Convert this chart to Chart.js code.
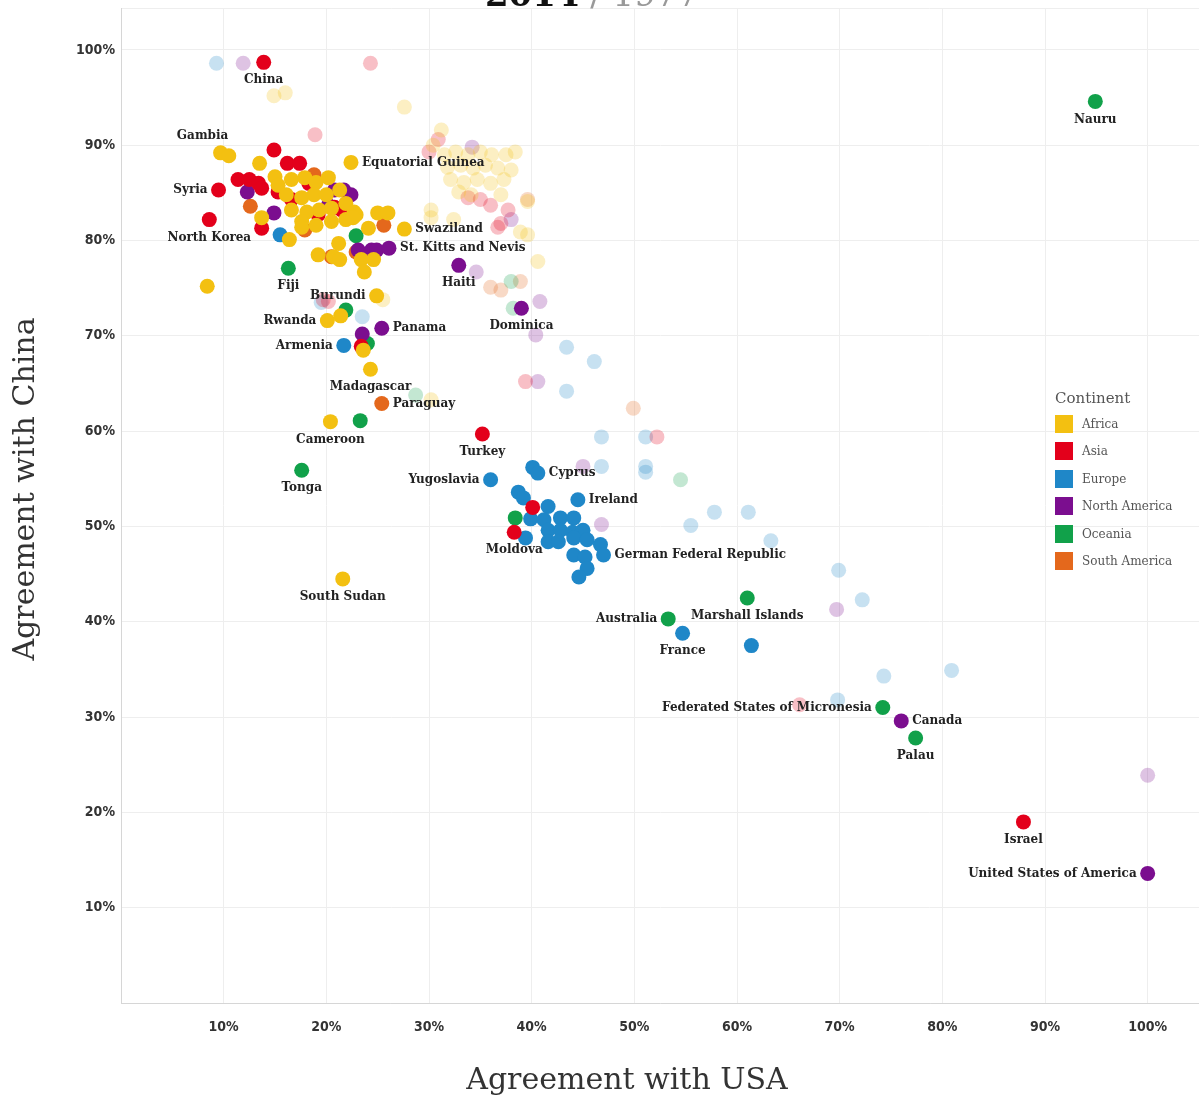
<!DOCTYPE html>
<html>
<head>
<meta charset="utf-8">
<script src="https://cdn.jsdelivr.net/npm/chart.js@4"></script>
<style>
  html, body { margin: 0; background: #fff; overflow: hidden; }
  #wrap { position: relative; width: 1199px; height: 1099px; }
  #chart { display: block; }
  #legend { position: absolute; left: 1055px; top: 389px; font-family: "DejaVu Serif", serif; color: #555; }
  #legend .ttl { font-size: 15px; margin-bottom: 3px; }
  #legend .row { display: flex; align-items: center; height: 27.5px; font-size: 12px; }
  #legend .sw { width: 18px; height: 18px; margin-right: 9px; }
</style>
</head>
<body>
<div id="wrap">
  <canvas id="chart"></canvas>
  <div id="legend"></div>
</div>
<script>
// [agreement with USA %, agreement with China %, label]
const africa2014 = [
    [9.7, 89.2, 'Gambia'], [10.5, 88.9], [13.5, 88.1], [22.4, 88.2, 'Equatorial Guinea'], [15.0, 86.7],
    [15.3, 85.8], [16.6, 86.4], [17.9, 86.6], [19.0, 86.1], [20.2, 86.6],
    [16.1, 84.8], [17.6, 84.5], [18.8, 84.8], [20.0, 84.8], [21.3, 85.3],
    [16.6, 83.2], [18.1, 83.0], [19.3, 83.2], [20.5, 83.4], [21.9, 83.9],
    [17.6, 82.0], [19.0, 81.6], [20.5, 82.0], [21.9, 82.2], [22.9, 82.7],
    [22.7, 83.0], [22.6, 82.4], [25.0, 82.9], [26.0, 82.9], [24.1, 81.3],
    [27.6, 81.2, 'Swaziland'], [13.7, 82.4], [16.4, 80.1], [17.6, 81.4], [19.2, 78.5],
    [21.2, 79.7], [20.7, 78.3], [21.3, 78.0], [23.4, 78.0], [24.6, 78.0],
    [23.7, 76.7], [8.4, 75.2], [24.9, 74.2, 'Burundi'], [20.1, 71.6, 'Rwanda'], [21.4, 72.1],
    [23.6, 68.5], [24.3, 66.5, 'Madagascar'], [20.4, 61.0, 'Cameroon'], [21.6, 44.5, 'South Sudan']
];
const asia2014 = [
    [13.9, 98.7, 'China'], [14.9, 89.5], [16.2, 88.1], [17.4, 88.1], [11.4, 86.4],
    [12.5, 86.4], [13.4, 86.0], [13.7, 85.5], [9.5, 85.3, 'Syria'], [8.6, 82.2, 'North Korea'],
    [18.3, 86.0], [15.3, 85.1], [19.2, 82.7], [20.8, 83.5], [21.5, 83.2],
    [22.1, 82.5], [13.7, 81.3], [16.6, 84.3], [23.4, 68.9], [35.2, 59.7, 'Turkey'],
    [40.1, 52.0], [38.3, 49.4, 'Moldova'], [87.9, 19.0, 'Israel']
];
const europe2014 = [
    [15.5, 80.6], [21.7, 69.0, 'Armenia'], [36.0, 54.9, 'Yugoslavia'], [40.1, 56.2], [40.6, 55.6, 'Cyprus'],
    [44.5, 52.8, 'Ireland'], [38.7, 53.6], [39.2, 53.0], [41.6, 52.1], [39.9, 50.8],
    [41.2, 50.7], [42.8, 50.9], [44.1, 50.9], [41.6, 49.6], [42.8, 49.6],
    [44.0, 49.4], [45.0, 49.6], [39.4, 48.8], [41.6, 48.4], [42.6, 48.4],
    [44.1, 48.8], [45.4, 48.6], [46.7, 48.1], [47.0, 47.0, 'German Federal Republic'], [44.1, 47.0],
    [45.2, 46.8], [45.4, 45.6], [44.6, 44.7], [54.7, 38.8, 'France'], [61.4, 37.5]
];
const northAmerica2014 = [
    [12.3, 85.1], [20.8, 85.3], [21.7, 85.3], [22.4, 84.8], [20.2, 83.7],
    [14.9, 82.9], [23.1, 79.0], [24.4, 79.0], [24.9, 79.0], [26.1, 79.2, 'St. Kitts and Nevis'],
    [32.9, 77.4, 'Haiti'], [25.4, 70.8, 'Panama'], [39.0, 72.9, 'Dominica'], [23.5, 70.2],
    [76.0, 29.6, 'Canada'], [100, 13.6, 'United States of America']
];
const oceania2014 = [
    [94.9, 94.6, 'Nauru'], [22.9, 80.5], [16.3, 77.1, 'Fiji'], [21.9, 72.7], [24.0, 69.2],
    [23.3, 61.1], [17.6, 55.9, 'Tonga'], [38.4, 50.9], [53.3, 40.3, 'Australia'], [61.0, 42.5, 'Marshall Islands'],
    [74.2, 31.0, 'Federated States of Micronesia'], [77.4, 27.8, 'Palau']
];
const southAmerica2014 = [
    [18.8, 86.9], [12.6, 83.6], [25.6, 81.6], [20.5, 78.3], [22.9, 78.8],
    [17.9, 81.1], [25.4, 62.9, 'Paraguay']
];

const africa1977 = [
    [14.9, 95.2], [16.0, 95.5], [27.6, 94.0], [31.2, 91.6], [30.4, 90.0],
    [31.5, 89.0], [32.6, 89.3], [33.8, 89.0], [35.0, 89.3], [36.1, 89.0], [37.5, 89.0], [38.4, 89.3],
    [31.8, 87.7], [33.1, 87.9], [34.3, 87.6], [35.5, 87.9], [36.7, 87.6], [38.0, 87.4],
    [32.1, 86.4], [33.4, 86.1], [34.7, 86.4], [36.0, 86.0], [37.3, 86.4],
    [32.9, 85.1], [34.1, 84.8], [37.0, 84.8], [30.2, 83.2], [32.4, 82.2], [30.2, 82.4],
    [40.6, 77.8], [39.6, 80.6], [38.9, 80.9], [30.2, 63.3], [25.5, 73.8], [39.6, 84.1]
];
const asia1977 = [
    [24.3, 98.6], [18.9, 91.1], [30.0, 89.3], [30.9, 90.6], [33.8, 84.5],
    [35.0, 84.3], [36.0, 83.7], [37.7, 83.2], [37.0, 81.8], [36.7, 81.4],
    [19.7, 73.8], [20.2, 73.6], [52.2, 59.4], [66.1, 31.3], [39.4, 65.2]
];
const europe1977 = [
    [9.3, 98.6], [23.5, 72.0], [19.5, 73.5], [43.4, 68.8], [46.1, 67.3],
    [43.4, 64.2], [46.8, 59.4], [51.1, 59.4], [46.8, 56.3], [51.1, 56.3],
    [51.1, 55.7], [55.5, 50.1], [57.8, 51.5], [61.1, 51.5], [63.3, 48.5],
    [69.9, 45.4], [72.2, 42.3], [74.3, 34.3], [80.9, 34.9], [69.8, 31.8]
];
const northAmerica1977 = [
    [11.9, 98.6], [34.2, 89.8], [34.6, 76.7], [40.8, 73.6], [40.4, 70.1],
    [40.6, 65.2], [45.0, 56.3], [46.8, 50.2], [69.7, 41.3], [100, 23.9], [38.0, 82.2]
];
const oceania1977 = [
    [54.5, 54.9], [28.7, 63.8], [38.2, 72.9], [38.0, 75.7]
];
const southAmerica1977 = [
    [49.9, 62.4], [36.0, 75.1], [38.9, 75.7], [39.6, 84.3], [37.0, 74.8]
];

const continents = ['Africa', 'Asia', 'Europe', 'North America', 'Oceania', 'South America'];
const colors = ['243,192,17', '227,0,27', '31,135,200', '123,14,143', '17,161,74', '228,104,28'];
const series2014 = [africa2014, asia2014, europe2014, northAmerica2014, oceania2014, southAmerica2014];
const series1977 = [africa1977, asia1977, europe1977, northAmerica1977, oceania1977, southAmerica1977];

// where each country name sits next to its dot
const labelSide = {
    'China': 'below', 'Nauru': 'below', 'Gambia': 'above', 'Equatorial Guinea': 'right',
    'Syria': 'left', 'North Korea': 'below', 'Swaziland': 'right', 'St. Kitts and Nevis': 'right',
    'Fiji': 'below', 'Burundi': 'left', 'Haiti': 'below', 'Rwanda': 'left', 'Panama': 'right',
    'Dominica': 'below', 'Armenia': 'left', 'Madagascar': 'below', 'Paraguay': 'right',
    'Cameroon': 'below', 'Turkey': 'below', 'Tonga': 'below', 'Yugoslavia': 'left',
    'Cyprus': 'right', 'Ireland': 'right', 'Moldova': 'below', 'German Federal Republic': 'right',
    'South Sudan': 'below', 'Australia': 'left', 'Marshall Islands': 'below', 'France': 'below',
    'Federated States of Micronesia': 'left', 'Canada': 'right', 'Palau': 'below',
    'Israel': 'below', 'United States of America': 'left'
};

const toPoints = arr => arr.map(p => ({ x: p[0], y: p[1], name: p[2] }));

const datasets = [];
continents.forEach((c, i) => {
    datasets.push({
        label: c + ' 2014',
        data: toPoints(series2014[i]),
        backgroundColor: 'rgb(' + colors[i] + ')',
        borderWidth: 0,
        pointRadius: 7.5,
        order: 1
    });
});
continents.forEach((c, i) => {
    datasets.push({
        label: c + ' 1977',
        data: toPoints(series1977[i]),
        backgroundColor: 'rgba(' + colors[i] + ',0.25)',
        borderWidth: 0,
        pointRadius: 7.5,
        order: 2
    });
});

const serif = '"DejaVu Serif", serif';
const tickFont = { family: '"DejaVu Sans Condensed", "DejaVu Sans", sans-serif', size: 14, weight: 'bold' };

const decorations = {
    id: 'decorations',
    afterDatasetsDraw(chart) {
        const ctx = chart.ctx;
        ctx.save();
        ctx.font = 'bold 12px ' + serif;
        ctx.fillStyle = '#222';
        chart.data.datasets.forEach((ds, di) => {
            if (di >= continents.length) return;
            const meta = chart.getDatasetMeta(di);
            ds.data.forEach((p, pi) => {
                if (!p.name) return;
                const el = meta.data[pi];
                const side = labelSide[p.name] || 'right';
                ctx.textBaseline = 'middle';
                if (side === 'below') {
                    ctx.textAlign = 'center';
                    ctx.fillText(p.name, el.x, el.y + 18);
                } else if (side === 'above') {
                    ctx.textAlign = 'center';
                    ctx.fillText(p.name, el.x - 18, el.y - 17);
                } else if (side === 'left') {
                    ctx.textAlign = 'right';
                    ctx.fillText(p.name, el.x - 11, el.y);
                } else {
                    ctx.textAlign = 'left';
                    ctx.fillText(p.name, el.x + 11, el.y);
                }
            });
        });
        ctx.restore();
    },
    afterDraw(chart) {
        const ctx = chart.ctx;
        ctx.save();
        // title, mostly cropped off the top
        ctx.textBaseline = 'alphabetic';
        ctx.textAlign = 'left';
        const t1 = '2014';
        const t2 = ' / 1977';
        ctx.font = 'bold 34px ' + serif;
        const w1 = ctx.measureText(t1).width;
        ctx.font = '34px ' + serif;
        const w2 = ctx.measureText(t2).width;
        const start = 592 - (w1 + w2) / 2;
        ctx.font = 'bold 34px ' + serif;
        ctx.fillStyle = '#111';
        ctx.fillText(t1, start, 6);
        ctx.font = '34px ' + serif;
        ctx.fillStyle = '#999';
        ctx.fillText(t2, start + w1, 6);
        // axis titles
        ctx.fillStyle = '#333';
        ctx.font = '30px ' + serif;
        ctx.textAlign = 'center';
        ctx.textBaseline = 'middle';
        ctx.fillText('Agreement with USA', 627, 1081);
        ctx.translate(26, 489);
        ctx.rotate(-Math.PI / 2);
        ctx.fillText('Agreement with China', 0, 0);
        ctx.restore();
    }
};

new Chart(document.getElementById('chart'), {
    type: 'scatter',
    data: { datasets: datasets },
    options: {
        responsive: true,
        maintainAspectRatio: false,
        animation: false,
        layout: { autoPadding: false, padding: { top: 8, right: 0, left: 0, bottom: 0 } },
        plugins: { legend: { display: false }, tooltip: { enabled: false } },
        scales: {
            x: {
                min: 0, max: 105,
                afterFit(scale) {
                    scale.height = 96;
                    scale.paddingLeft = 0;
                    scale.paddingRight = 0;
                },
                ticks: {
                    stepSize: 10,
                    padding: 16,
                    color: '#333',
                    font: tickFont,
                    callback: v => (v > 0 && v % 10 === 0) ? v + '%' : ''
                },
                grid: { color: '#eeeeee', drawTicks: false },
                border: { color: '#d6d6d6' }
            },
            y: {
                min: 0, max: 104.4,
                afterFit(scale) {
                    scale.width = 121;
                    scale.paddingTop = 0;
                    scale.paddingBottom = 0;
                },
                ticks: {
                    stepSize: 10,
                    padding: 6,
                    color: '#333',
                    font: tickFont,
                    callback: v => (v > 0 && v % 10 === 0) ? v + '%' : ''
                },
                grid: { color: '#eeeeee', drawTicks: false },
                border: { color: '#d6d6d6' }
            }
        }
    },
    plugins: [decorations]
});

const legend = document.getElementById('legend');
let html = '<div class="ttl">Continent</div>';
continents.forEach((c, i) => {
    html += '<div class="row"><div class="sw" style="background:rgb(' + colors[i] + ')"></div>' + c + '</div>';
});
legend.innerHTML = html;
</script>
</body>
</html>
